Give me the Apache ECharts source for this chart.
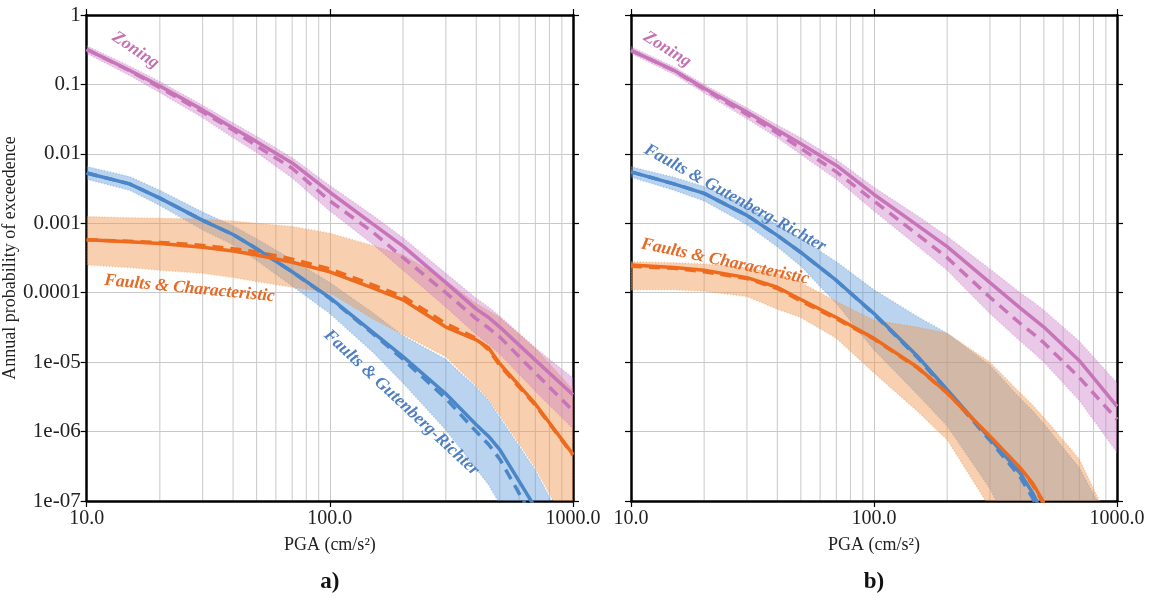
<!DOCTYPE html>
<html>
<head>
<meta charset="utf-8">
<script src="https://cdn.jsdelivr.net/npm/echarts@6/dist/echarts.min.js"></script>
<style>
  html, body { margin: 0; padding: 0; background: #ffffff; }
  #chart { width: 1153px; height: 600px; }
</style>
</head>
<body>
<div id="chart"></div>
<script>
// PGA sample points (cm/s^2) shared by every curve
const pga = [10, 15, 20, 30, 40, 50, 70, 100, 150, 200, 300, 400, 450, 500, 700, 1000];

// Axis ticks and labels
const xTickLabels = { 1: '10.0', 2: '100.0', 3: '1000.0' };
const yTickLabels = { 0: '1', '-1': '0.1', '-2': '0.01', '-3': '0.001', '-4': '0.0001', '-5': '1e-05', '-6': '1e-06', '-7': '1e-07' };
const minorGridX = [20, 30, 40, 50, 60, 70, 80, 90, 200, 300, 400, 500, 600, 700, 800, 900];

// ---- panel a) ----
const zoningSolidA = [0.32, 0.16, 0.095, 0.043, 0.0235, 0.015, 0.0074, 0.0028, 0.00098, 0.00047, 0.00014, 5.8e-5, 4.4e-5, 3.2e-5, 1.07e-5, 3.4e-6];
const zoningDashA  = [0.32, 0.158, 0.09, 0.04, 0.022, 0.013, 0.0062, 0.0021, 0.00075, 0.00032, 0.0001, 4.2e-5, 3.1e-5, 2.3e-5, 7e-6, 2.0e-6];
const zoningHiA    = [0.36, 0.185, 0.11, 0.05, 0.028, 0.018, 0.0088, 0.0035, 0.0013, 0.00062, 0.00019, 8.3e-5, 6.2e-5, 4.6e-5, 1.6e-5, 5.9e-6];
const zoningLoA    = [0.28, 0.135, 0.076, 0.033, 0.017, 0.0105, 0.0045, 0.0015, 0.0005, 0.00021, 6.2e-5, 2.5e-5, 1.8e-5, 1.3e-5, 3.8e-6, 1.1e-6];

const grSolidA = [0.0053, 0.0037, 0.0023, 0.0011, 0.00069, 0.00043, 0.0002, 8.5e-5, 2.7e-5, 1.2e-5, 3.5e-6, 1.25e-6, 8.5e-7, 5.5e-7, 8e-8, null];
const grDashA  = [0.0053, 0.0037, 0.0023, 0.0011, 0.00069, 0.00043, 0.0002, 8.3e-5, 2.6e-5, 1.1e-5, 3.0e-6, 1.0e-6, 6.5e-7, 4.0e-7, 5e-8, null];
const grHiA    = [0.0066, 0.0047, 0.003, 0.00145, 0.00092, 0.0006, 0.0003, 0.00014, 5.2e-5, 2.4e-5, 1.1e-5, 4.3e-6, 2.8e-6, 1.6e-6, 2.8e-7, 2.5e-8];
const grLoA    = [0.0043, 0.003, 0.0018, 0.0008, 0.00049, 0.00029, 0.000125, 5e-5, 1.4e-5, 5e-6, 1.05e-6, 2.9e-7, 1.7e-7, 9e-8, 1e-8, 1e-9];

const chSolidA = [5.8e-4, 5.4e-4, 5.1e-4, 4.5e-4, 4.0e-4, 3.5e-4, 2.75e-4, 2.0e-4, 1.17e-4, 7.9e-5, 3.2e-5, 2.1e-5, 1.6e-5, 9.5e-6, 2.5e-6, 4.7e-7];
const chDashA  = [5.8e-4, 5.5e-4, 5.3e-4, 4.8e-4, 4.3e-4, 3.9e-4, 3.05e-4, 2.2e-4, 1.3e-4, 8.8e-5, 3.6e-5, 2.2e-5, 1.5e-5, 9e-6, 2.4e-6, 4.6e-7];
const chHiA    = [1.25e-3, 1.2e-3, 1.18e-3, 1.15e-3, 1.08e-3, 1.0e-3, 9e-4, 7.2e-4, 4.8e-4, 3.5e-4, 1.5e-4, 7e-5, 5.5e-5, 4.4e-5, 1.6e-5, 4e-6];
const chLoA    = [2.5e-4, 2.3e-4, 2.1e-4, 1.9e-4, 1.65e-4, 1.45e-4, 1.2e-4, 1e-4, 4.2e-5, 2.5e-5, 1.2e-5, 4.5e-6, 2.9e-6, 1.7e-6, 3e-7, 3e-8];

// ---- panel b) ----
const zoningSolidB = [0.31, 0.16, 0.088, 0.04, 0.022, 0.014, 0.0068, 0.0026, 0.00095, 0.00046, 0.00014, 6e-5, 4.3e-5, 3.2e-5, 1.05e-5, 2.3e-6];
const zoningDashB  = [0.31, 0.158, 0.085, 0.037, 0.02, 0.012, 0.0055, 0.0021, 0.0007, 0.00032, 8.6e-5, 3.6e-5, 2.6e-5, 1.9e-5, 6e-6, 1.5e-6];
const zoningHiB    = [0.35, 0.18, 0.1, 0.046, 0.026, 0.017, 0.0083, 0.0033, 0.0013, 0.00065, 0.00022, 0.0001, 7.5e-5, 5.6e-5, 2e-5, 5e-6];
const zoningLoB    = [0.28, 0.14, 0.075, 0.032, 0.017, 0.0098, 0.0043, 0.0015, 0.00048, 0.00021, 5e-5, 2e-5, 1.4e-5, 1e-5, 2.8e-6, 5e-7];

const grSolidB = [0.0055, 0.0037, 0.0027, 0.0013, 0.00067, 0.00038, 0.00015, 5e-5, 1.25e-5, 4e-6, 8e-7, 2.5e-7, 1.3e-7, 6e-8, null, null];
const grDashB  = [0.0055, 0.0037, 0.0027, 0.0013, 0.00067, 0.00038, 0.00015, 4.9e-5, 1.2e-5, 3.8e-6, 7.5e-7, 2.2e-7, 1.1e-7, 5e-8, null, null];
const grHiB    = [0.0065, 0.0046, 0.0034, 0.0018, 0.00095, 0.0006, 0.00028, 0.00011, 4.6e-5, 2.6e-5, 9e-6, 3e-6, 2e-6, 1.3e-6, 3e-7, 3e-8];
const grLoB    = [0.0046, 0.003, 0.0021, 0.00095, 0.00046, 0.00024, 7e-5, 1.5e-5, 3.5e-6, 1.2e-6, 1.5e-7, 2e-8, 8e-9, 4e-9, 1e-9, 1e-9];

const chSolidB = [2.5e-4, 2.3e-4, 2.1e-4, 1.65e-4, 1.2e-4, 8e-5, 4.4e-5, 2.2e-5, 8.6e-6, 3.6e-6, 8.6e-7, 3e-7, 1.8e-7, 9.5e-8, null, null];
const chDashB  = [2.4e-4, 2.25e-4, 2.0e-4, 1.6e-4, 1.15e-4, 7.6e-5, 4.2e-5, 2.15e-5, 8.4e-6, 3.6e-6, 8.5e-7, 2.9e-7, 1.7e-7, 9e-8, null, null];
const chHiB    = [2.8e-4, 2.7e-4, 2.6e-4, 2.3e-4, 1.9e-4, 1.4e-4, 7.5e-5, 4e-5, 3.2e-5, 2.6e-5, 1e-5, 3.6e-6, 2.4e-6, 1.6e-6, 4e-7, 3e-8];
const chLoB    = [1.1e-4, 1.1e-4, 1.05e-4, 8.8e-5, 5.8e-5, 4.4e-5, 2.2e-5, 7e-6, 2e-6, 7.6e-7, 8e-8, 1e-8, 1e-9, 1e-9, 1e-9, 1e-9];

// Curve annotations: [PGA, probability] anchor, rotation in degrees (negative = clockwise)
const notesA = [
  { text: 'Zoning', at: [15.9, 0.31], rot: -34, color: '#c470b2' },
  { text: 'Faults & Characteristic', at: [26.5, 1.15e-4], rot: -5.5, color: '#e66a26' },
  { text: 'Faults & Gutenberg-Richter', at: [197, 2.6e-6], rot: -43, color: '#4f7fc0' }
];
const notesB = [
  { text: 'Zoning', at: [14.1, 0.32], rot: -32, color: '#c470b2' },
  { text: 'Faults & Gutenberg-Richter', at: [26.8, 2.3e-3], rot: -29, color: '#4f7fc0' },
  { text: 'Faults & Characteristic', at: [24.4, 2.8e-4], rot: -12, color: '#e66a26' }
];

const SERIF = '"Liberation Serif", "DejaVu Serif", serif';
const COL = {
  zoning: '#c774b8', gr: '#4a86c8', ch: '#ee6b1e',
  zoningBand: 'rgba(200,120,195,0.40)', grBand: 'rgba(90,150,215,0.42)', chBand: 'rgba(240,150,80,0.45)'
};

function pairs(vals) {
  const out = [];
  pga.forEach((x, i) => { if (vals[i] != null) out.push([x, vals[i]]); });
  return out;
}

function lineSeries(idx, vals, color, dashed) {
  return {
    type: 'line', xAxisIndex: idx * 2, yAxisIndex: idx * 2,
    data: pairs(vals), showSymbol: false, silent: true, clip: true, z: dashed ? 4 : 5,
    lineStyle: { color: color, width: 3.5, type: dashed ? [11, 7] : 'solid', cap: 'butt' }
  };
}

function bandSeries(idx, hi, lo, fill, z) {
  return {
    type: 'custom', xAxisIndex: idx * 2, yAxisIndex: idx * 2, silent: true, z: z, clip: true,
    data: [[pga[0], hi[0]]],
    renderItem: function (params, api) {
      const pts = [];
      pga.forEach((x, i) => { if (hi[i] != null) pts.push(api.coord([x, hi[i]])); });
      for (let i = pga.length - 1; i >= 0; i--) if (lo[i] != null) pts.push(api.coord([pga[i], lo[i]]));
      const cs = params.coordSys;
      return {
        type: 'polygon',
        shape: { points: pts },
        style: { fill: fill, stroke: fill, lineWidth: 1.5, lineDash: [1, 2] },
        clipPath: { type: 'rect', shape: { x: cs.x, y: cs.y, width: cs.width, height: cs.height } }
      };
    }
  };
}

// Minor vertical grid lines at 20..90 and 200..900
function minorGridSeries(idx) {
  return {
    type: 'custom', xAxisIndex: idx * 2, yAxisIndex: idx * 2, silent: true, z: 0,
    data: [[10, 1]],
    renderItem: function (params, api) {
      const children = minorGridX.map(function (x) {
        const p0 = api.coord([x, 1]);
        const p1 = api.coord([x, 1e-7]);
        return { type: 'line', shape: { x1: p0[0], y1: p0[1], x2: p1[0], y2: p1[1] },
                 style: { stroke: '#c9c9c9', lineWidth: 1 } };
      });
      return { type: 'group', children: children };
    }
  };
}

function xAxes(gridIndex) {
  const base = {
    gridIndex: gridIndex, type: 'log', logBase: 10, min: 10, max: 1000, interval: 1,
    axisLine: { show: true, lineStyle: { color: '#000', width: 2.5 } },
    axisTick: { show: true, inside: false, length: 6, lineStyle: { color: '#000', width: 1.2 } }
  };
  return [
    Object.assign({}, base, {
      position: 'bottom',
      name: 'PGA (cm/s\u00B2)', nameLocation: 'middle', nameGap: 35,
      nameTextStyle: { fontFamily: SERIF, fontSize: 18, color: '#222' },
      axisLabel: { show: true, margin: 8, fontFamily: SERIF, fontSize: 20, color: '#222',
        showMinLabel: true, showMaxLabel: true,
        formatter: function (v) { return xTickLabels[Math.round(Math.log10(v))] || ''; } },
      splitLine: { show: true, lineStyle: { color: '#c9c9c9', width: 1 } }
    }),
    Object.assign({}, base, { position: 'top', axisLabel: { show: false }, splitLine: { show: false } })
  ];
}

function yAxes(gridIndex, withLabels) {
  const base = {
    gridIndex: gridIndex, type: 'log', logBase: 10, min: 1e-7, max: 1, interval: 1,
    axisLine: { show: true, lineStyle: { color: '#000', width: 2.5 } },
    axisTick: { show: true, inside: false, length: 6, lineStyle: { color: '#000', width: 1.2 } }
  };
  const left = Object.assign({}, base, {
    position: 'left',
    splitLine: { show: true, lineStyle: { color: '#c9c9c9', width: 1 } },
    axisLabel: withLabels ? { show: true, margin: 6, fontFamily: SERIF, fontSize: 21, color: '#222',
      showMinLabel: true, showMaxLabel: true,
      formatter: function (v) { return yTickLabels[Math.round(Math.log10(v))] || ''; } } : { show: false }
  });
  if (withLabels) {
    Object.assign(left, {
      name: 'Annual probability of exceedence', nameLocation: 'middle', nameGap: 62,
      nameTextStyle: { fontFamily: SERIF, fontSize: 18, color: '#222' }
    });
  }
  return [left, Object.assign({}, base, { position: 'right', axisLabel: { show: false }, splitLine: { show: false } })];
}

function panelSeries(idx, d) {
  return [
    minorGridSeries(idx),
    bandSeries(idx, d.grHi, d.grLo, COL.grBand, 1),
    bandSeries(idx, d.chHi, d.chLo, COL.chBand, 2),
    bandSeries(idx, d.zHi, d.zLo, COL.zoningBand, 3),
    lineSeries(idx, d.zDash, COL.zoning, true),
    lineSeries(idx, d.zSolid, COL.zoning, false),
    lineSeries(idx, d.grDash, COL.gr, true),
    lineSeries(idx, d.grSolid, COL.gr, false),
    lineSeries(idx, d.chDash, COL.ch, true),
    lineSeries(idx, d.chSolid, COL.ch, false)
  ];
}

const chart = echarts.init(document.getElementById('chart'), null, { renderer: 'canvas' });

chart.setOption({
  backgroundColor: '#ffffff',
  animation: false,
  grid: [
    { left: 86, top: 15, width: 487, height: 486, show: false },
    { left: 631, top: 15, width: 486, height: 486, show: false }
  ],
  xAxis: [].concat(xAxes(0), xAxes(1)),
  yAxis: [].concat(yAxes(0, true), yAxes(1, false)),
  series: [].concat(
    panelSeries(0, { zSolid: zoningSolidA, zDash: zoningDashA, zHi: zoningHiA, zLo: zoningLoA,
                     grSolid: grSolidA, grDash: grDashA, grHi: grHiA, grLo: grLoA,
                     chSolid: chSolidA, chDash: chDashA, chHi: chHiA, chLo: chLoA }),
    panelSeries(1, { zSolid: zoningSolidB, zDash: zoningDashB, zHi: zoningHiB, zLo: zoningLoB,
                     grSolid: grSolidB, grDash: grDashB, grHi: grHiB, grLo: grLoB,
                     chSolid: chSolidB, chDash: chDashB, chHi: chHiB, chLo: chLoB })
  )
});

// Curve names and panel letters, placed through the axes' own coordinate conversion
const graphics = [];
[[notesA, 0], [notesB, 1]].forEach(function (pair) {
  pair[0].forEach(function (n) {
    const p = chart.convertToPixel({ xAxisIndex: pair[1] * 2, yAxisIndex: pair[1] * 2 }, n.at);
    graphics.push({
      type: 'text', x: p[0], y: p[1], rotation: n.rot * Math.PI / 180, z: 20, silent: true,
      style: { text: n.text, font: 'italic bold 17.5px ' + SERIF, fill: n.color,
               align: 'center', verticalAlign: 'middle', textAlign: 'center', textVerticalAlign: 'middle' }
    });
  });
});
['a)', 'b)'].forEach(function (t, i) {
  const p = chart.convertToPixel({ xAxisIndex: i * 2, yAxisIndex: i * 2 }, [100, 1e-7]);
  graphics.push({
    type: 'text', x: p[0], y: p[1] + 81, z: 20, silent: true,
    style: { text: t, font: 'bold 23px ' + SERIF, fill: '#111',
             align: 'center', verticalAlign: 'middle', textAlign: 'center', textVerticalAlign: 'middle' }
  });
});
chart.setOption({ graphic: graphics });
</script>
</body>
</html>
